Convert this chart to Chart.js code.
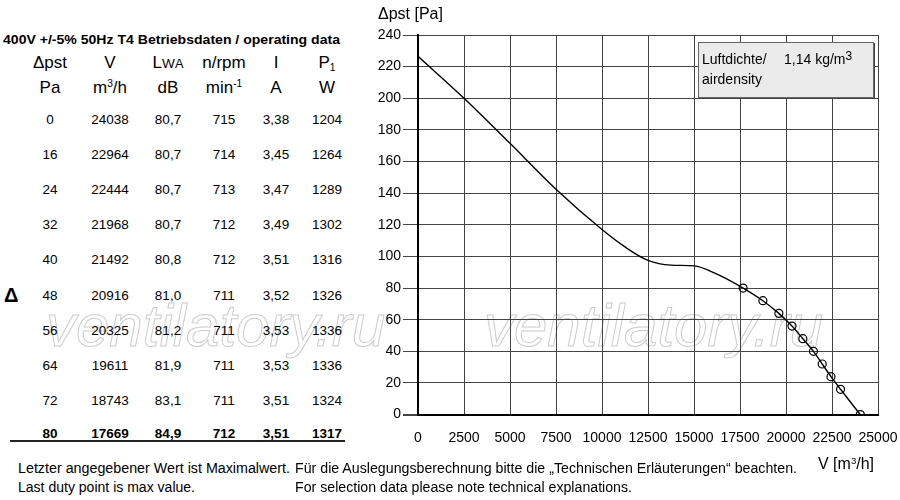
<!DOCTYPE html>
<html>
<head>
<meta charset="utf-8">
<script src="https://cdn.jsdelivr.net/npm/chart.js@4.4.1/dist/chart.umd.min.js"></script>
<style>
  html, body { margin: 0; padding: 0; background: #fff; }
  body { width: 900px; height: 500px; position: relative; overflow: hidden;
         font-family: Arial, "Liberation Sans", Helvetica, sans-serif; color: #000; }
  .abs { position: absolute; white-space: nowrap; }
  .fit { position: absolute; white-space: nowrap; transform-origin: 0 50%; }
  .cell { position: absolute; transform: translate(-50%, -50%); white-space: nowrap; font-size: 13.5px; }
  .head { position: absolute; transform: translate(-50%, -50%); white-space: nowrap; font-size: 17px; }
  .foot { font-size: 14px; }
  .wm { position: absolute; white-space: nowrap; font: italic 60px Arial, sans-serif;
        color: transparent; -webkit-text-stroke: 1px #cccccc; }
  sup { font-size: 60%; vertical-align: 0; position: relative; top: -0.55em; }
  sub { font-size: 60%; vertical-align: 0; position: relative; top: 0.3em; }
  #chartBox { position: absolute; left: 360px; top: 0; width: 540px; height: 460px; }
  #density { position: absolute; left: 698px; top: 42px; width: 174px; height: 54px;
             background: #ebebeb; border: 1px solid #666; box-shadow: 1px 1px 0 #444; font-size: 14px; }
</style>
</head>
<body>
<div class="wm" style="left:46px; top:291px;">ventilatory.ru</div>
<div class="wm" style="left:484px; top:291px;">ventilatory.ru</div>

<div class="fit" data-w="337" style="left:3px; top:32px; font-weight:bold; font-size:13.5px;">400V +/-5% 50Hz T4 Betriebsdaten / operating data</div>
<div id="table"></div>
<div class="abs" style="left:4px; top:284px; font-weight:bold; font-size:20px;">Δ</div>
<div class="abs" style="left:10px; top:440px; width:335px; height:2px; background:#222;"></div>

<div id="chartBox"><canvas id="curve"></canvas></div>
<div class="abs" style="left:378px; top:5px; font-size:16px;">Δpst [Pa]</div>
<div class="abs" style="left:818px; top:455px; font-size:16px;">V [m<sup>3</sup>/h]</div>
<div id="density">
  <div class="abs" style="left:3px; top:8px;">Luftdichte/</div>
  <div class="abs" style="left:85px; top:8px;">1,14 kg/m<sup style="font-size:85%; top:-0.35em;">3</sup></div>
  <div class="abs" style="left:3px; top:28px;">airdensity</div>
</div>

<div class="fit foot" data-w="272" style="left:18px; top:460px;">Letzter angegebener Wert ist Maximalwert.</div>
<div class="fit foot" data-w="177" style="left:18px; top:479px;">Last duty point is max value.</div>
<div class="fit foot" data-w="502" style="left:295px; top:460px;">Für die Auslegungsberechnung bitte die „Technischen Erläuterungen“ beachten.</div>
<div class="fit foot" data-w="337" style="left:295px; top:479px;">For selection data please note technical explanations.</div>

<script>
// operating data table (also the circled duty points on the curve)
const pressure = [0, 16, 24, 32, 40, 48, 56, 64, 72, 80];
const flow = [24038, 22964, 22444, 21968, 21492, 20916, 20325, 19611, 18743, 17669];
const soundLevel = ["80,7", "80,7", "80,7", "80,7", "80,8", "81,0", "81,2", "81,9", "83,1", "84,9"];
const rpm = [715, 714, 713, 712, 712, 711, 711, 711, 711, 712];
const current = ["3,38", "3,45", "3,47", "3,49", "3,51", "3,52", "3,53", "3,53", "3,51", "3,51"];
const power = [1204, 1264, 1289, 1302, 1316, 1326, 1336, 1336, 1324, 1317];

// fan curve left of the duty points
const curveFlow = [0, 2500, 5000, 7500, 10000, 11250, 12500, 13750, 15000, 16250];
const curvePressure = [226.5, 200, 171.5, 142.5, 117, 106, 97.5, 94.5, 94, 88.8];

const xTicks = [0, 2500, 5000, 7500, 10000, 12500, 15000, 17500, 20000, 22500, 25000];
const yTicks = [0, 20, 40, 60, 80, 100, 120, 140, 160, 180, 200, 220, 240];

// ---- table ----
const colX = [50, 110, 168, 224, 276, 327];
const rowY = [119, 154, 189, 224, 259, 295, 330, 365, 400, 433];
const table = document.getElementById("table");

const headers1 = ["Δpst", "V", "L<span style='font-size:80%'>W</span><span style='font-size:75%'>A</span>", "n/rpm", "I", "P<sub>1</sub>"];
const headers2 = ["Pa", "m<sup>3</sup>/h", "dB", "min<sup>-1</sup>", "A", "W"];
headers1.forEach((h, i) => {
	table.insertAdjacentHTML("beforeend", `<div class="head" style="left:${colX[i]}px; top:63px;">${h}</div>`);
});
headers2.forEach((h, i) => {
	table.insertAdjacentHTML("beforeend", `<div class="head" style="left:${colX[i]}px; top:88px;">${h}</div>`);
});

pressure.forEach((p, r) => {
	const vals = [p, flow[r], soundLevel[r], rpm[r], current[r], power[r]];
	const bold = r === pressure.length - 1 ? "font-weight:bold;" : "";
	vals.forEach((v, c) => {
		table.insertAdjacentHTML("beforeend",
			`<div class="cell" style="left:${colX[c]}px; top:${rowY[r]}px; ${bold}">${v}</div>`);
	});
});

// squeeze the narrow-looking texts to the width they have in the original
document.querySelectorAll(".fit").forEach((el) => {
	const target = Number(el.dataset.w);
	const w = el.getBoundingClientRect().width;
	if (target && w) el.style.transform = `scaleX(${target / w})`;
});

// ---- chart ----
const dutyPoints = flow.map((v, i) => ({ x: v, y: pressure[i] })).reverse();
const curvePoints = curveFlow.map((v, i) => ({ x: v, y: curvePressure[i] })).concat(dutyPoints);

const gridColor = "#444";
const zeroWidth = (ctx) => (ctx.tick && ctx.tick.value === 0 ? 2 : 1);

new Chart(document.getElementById("curve").getContext("2d"), {
	type: "line",
	data: {
		datasets: [
			{
				data: curvePoints,
				borderColor: "#000",
				borderWidth: 1.4,
				pointRadius: 0,
				cubicInterpolationMode: "monotone",
				fill: false,
			},
			{
				data: dutyPoints,
				showLine: false,
				pointRadius: 4,
				pointBorderWidth: 1.2,
				pointBorderColor: "#000",
				pointBackgroundColor: "rgba(0,0,0,0)",
			},
		],
	},
	options: {
		responsive: true,
		maintainAspectRatio: false,
		animation: false,
		layout: { padding: { top: 35, right: 22, bottom: 0, left: 0 } },
		plugins: { legend: { display: false }, tooltip: { enabled: false } },
		scales: {
			x: {
				type: "linear",
				min: 0,
				max: 25000,
				afterBuildTicks: (scale) => { scale.ticks = xTicks.map((v) => ({ value: v })); },
				afterFit: (scale) => { scale.height = 45.4; },
				grid: { color: gridColor, lineWidth: zeroWidth, drawTicks: true, tickLength: 13,
				        tickColor: "rgba(0,0,0,0)" },
				border: { color: "#000", width: 2 },
				ticks: {
					padding: 2,
					color: "#000",
					maxRotation: 0,
					autoSkip: false,
					font: { family: "Arial", size: 14 },
					callback: (v) => String(v),
				},
			},
			y: {
				type: "linear",
				min: 0,
				max: 240,
				afterBuildTicks: (scale) => { scale.ticks = yTicks.map((v) => ({ value: v })); },
				afterFit: (scale) => { scale.width = 58; },
				grid: { color: gridColor, lineWidth: zeroWidth, drawTicks: true, tickLength: 15 },
				border: { color: "#000", width: 2 },
				ticks: {
					padding: 2,
					color: "#000",
					font: { family: "Arial", size: 14 },
					callback: (v) => String(v),
				},
			},
		},
	},
});
</script>
</body>
</html>
